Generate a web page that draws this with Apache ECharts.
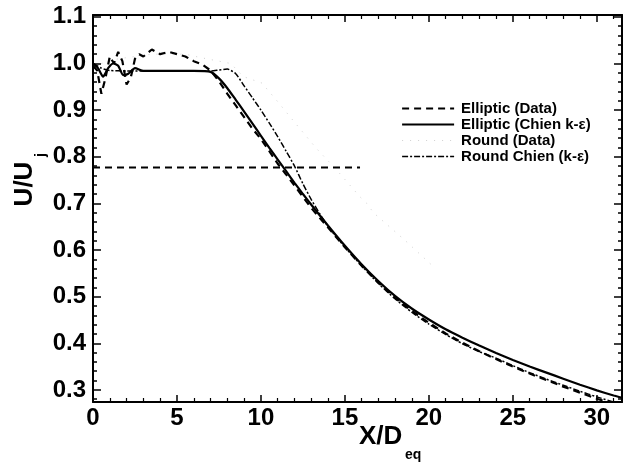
<!DOCTYPE html>
<html>
<head>
<meta charset="utf-8">
<script src="https://cdn.jsdelivr.net/npm/echarts@6/dist/echarts.min.js"></script>
<style>
  html, body { margin: 0; padding: 0; background: #fff; }
  #chart { width: 631px; height: 468px; }
</style>
</head>
<body>
<div id="chart"></div>
<script>
// Centreline velocity decay U/Uj versus X/Deq

const ellipticData = [
  [0, 0.995], [0.25, 0.985], [0.5, 0.935], [0.75, 0.97], [1.0, 1.015], [1.25, 1.0],
  [1.5, 1.025], [1.75, 1.005], [2.0, 0.955], [2.25, 0.97], [2.5, 1.01], [2.75, 1.02],
  [3.0, 1.015], [3.5, 1.03], [4.0, 1.02], [4.5, 1.025], [5.0, 1.02], [5.5, 1.015],
  [6.0, 1.005], [6.5, 0.998], [7.0, 0.985], [7.5, 0.962], [8, 0.935], [8.5, 0.91],
  [9, 0.885], [9.5, 0.86], [10, 0.838], [10.5, 0.812], [11, 0.785], [11.5, 0.762],
  [12, 0.738], [12.5, 0.714], [13, 0.69], [14, 0.648], [15, 0.606], [16, 0.566],
  [17, 0.53], [18, 0.497], [19, 0.469], [20, 0.444], [21, 0.421], [22, 0.401],
  [23, 0.383], [24, 0.366], [25, 0.35], [26, 0.335], [27, 0.321], [28, 0.307],
  [29, 0.294], [30, 0.281], [31, 0.27], [31.5, 0.265]
];

const ellipticChien = [
  [0, 1.0], [0.3, 0.99], [0.6, 0.972], [0.9, 0.99], [1.2, 1.0], [1.5, 0.995],
  [1.8, 0.975], [2.1, 0.978], [2.5, 0.99], [3, 0.984], [4, 0.984], [5, 0.984],
  [6, 0.984], [7, 0.982], [7.5, 0.968], [8, 0.947], [8.5, 0.922], [9, 0.897],
  [9.5, 0.871], [10, 0.845], [10.5, 0.819], [11, 0.794], [11.5, 0.769], [12, 0.744],
  [12.5, 0.72], [13, 0.697], [14, 0.652], [15, 0.609], [16, 0.569], [17, 0.533],
  [18, 0.501], [19, 0.474], [20, 0.451], [21, 0.43], [22, 0.412], [23, 0.395],
  [24, 0.379], [25, 0.364], [26, 0.35], [27, 0.337], [28, 0.324], [29, 0.311],
  [30, 0.299], [31, 0.288], [31.5, 0.283]
];

const roundData = [
  [0.5, 1.0], [1.5, 1.01], [2.5, 1.015], [3.5, 1.02], [4.5, 1.02], [5.5, 1.02],
  [6.5, 1.012], [7.5, 1.005], [8.2, 1.0], [8.95, 0.972], [10.06, 0.958], [11, 0.918],
  [12, 0.874], [13.3, 0.818], [14.5, 0.772], [15.9, 0.714], [16.3, 0.70], [16.7, 0.68],
  [18.6, 0.62], [20.4, 0.56]
];

const roundChien = [
  [0, 1.0], [0.5, 0.99], [1, 0.985], [2, 0.984], [3, 0.984], [4, 0.984], [5, 0.984],
  [6, 0.984], [7, 0.984], [7.5, 0.986], [8, 0.988], [8.5, 0.978], [9, 0.952],
  [9.5, 0.926], [10, 0.9], [10.5, 0.872], [11, 0.843], [11.5, 0.812], [12, 0.78],
  [12.5, 0.742], [13, 0.708], [13.5, 0.678], [14, 0.65], [15, 0.606], [16, 0.566],
  [17, 0.528], [18, 0.495], [19, 0.466], [20, 0.441], [21, 0.419], [22, 0.399],
  [23, 0.382], [24, 0.368], [25, 0.352], [26, 0.337], [27, 0.323], [28, 0.31],
  [29, 0.297], [30, 0.285], [31, 0.274], [31.5, 0.268]
];

// horizontal reference level
const refLevel = [[0, 0.777], [15.9, 0.777]];

const seriesNames = ['Elliptic (Data)', 'Elliptic (Chien k-\u03b5)', 'Round (Data)', 'Round Chien (k-\u03b5)'];

const xRange = [0, 31.5];
const yRange = [0.274, 1.104];
const yMajor = [0.3, 0.4, 0.5, 0.6, 0.7, 0.8, 0.9, 1.0, 1.1];
const yMinor = [0.28, 0.32, 0.34, 0.36, 0.38, 0.42, 0.44, 0.46, 0.48, 0.52, 0.54, 0.56, 0.58,
  0.62, 0.64, 0.66, 0.68, 0.72, 0.74, 0.76, 0.78, 0.82, 0.84, 0.86, 0.88, 0.92, 0.94,
  0.96, 0.98, 1.02, 1.04, 1.06, 1.08];

const FONT = '"Liberation Sans", Arial, Helvetica, sans-serif';
const INK = '#000';

function xAxisOf(pos, withLabels) {
  return {
    type: 'value', position: pos, min: xRange[0], max: xRange[1], interval: 5,
    axisLine: { show: true, onZero: false, lineStyle: { color: INK, width: 2 } },
    axisTick: { show: true, inside: true, length: 7, lineStyle: { color: INK, width: 1.5 } },
    minorTick: { show: true, splitNumber: 5, length: 4, lineStyle: { color: INK, width: 1.2 } },
    axisLabel: withLabels ? {
      show: true, margin: 4, color: INK, fontFamily: FONT, fontSize: 24, fontWeight: 'bold',
      showMaxLabel: false,
      formatter: v => String(v)
    } : { show: false },
    splitLine: { show: false }
  };
}

function yAxisOf(pos, ticks, len, withLine, withLabels) {
  return {
    type: 'value', position: pos, min: yRange[0], max: yRange[1],
    axisLine: { show: withLine, onZero: false, lineStyle: { color: INK, width: 2 } },
    axisTick: { show: true, inside: true, length: len, customValues: ticks,
      lineStyle: { color: INK, width: 1.5 } },
    axisLabel: withLabels ? {
      show: true, margin: 7, color: INK, fontFamily: FONT, fontSize: 24, fontWeight: 'bold',
      customValues: yMajor, formatter: v => v.toFixed(1)
    } : { show: false },
    splitLine: { show: false }
  };
}

const chart = echarts.init(document.getElementById('chart'), null, { renderer: 'canvas' });

chart.setOption({
  backgroundColor: '#fff',
  animation: false,
  grid: { left: 93, right: 9, top: 15, bottom: 66, containLabel: false },
  xAxis: [xAxisOf('bottom', true), xAxisOf('top', false)],
  yAxis: [
    yAxisOf('left', yMajor, 8, true, true),
    yAxisOf('right', yMajor, 8, true, false),
    yAxisOf('left', yMinor, 4, false, false),
    yAxisOf('right', yMinor, 4, false, false)
  ],
  legend: {
    data: seriesNames,
    orient: 'vertical',
    left: 401, top: 101,
    padding: 0,
    itemWidth: 52, itemHeight: 10, itemGap: 1,
    selectedMode: false,
    itemStyle: { opacity: 0 },
    lineStyle: { width: 'inherit' },
    textStyle: { color: INK, fontFamily: FONT, fontSize: 15, fontWeight: 'bold',
      lineHeight: 14, padding: [0, 0, 0, 2] }
  },
  series: [
    {
      name: seriesNames[0], type: 'line', data: ellipticData, symbol: 'none',
      lineStyle: { color: INK, width: 2.2, type: [7, 5] }, z: 4
    },
    {
      name: seriesNames[1], type: 'line', data: ellipticChien, symbol: 'none', smooth: 0.2,
      lineStyle: { color: INK, width: 2.2, type: 'solid' }, z: 3
    },
    {
      name: seriesNames[2], type: 'line', data: roundData, symbol: 'none',
      lineStyle: { color: '#d0d0d0', width: 1, type: [1, 7] }, z: 2
    },
    {
      name: seriesNames[3], type: 'line', data: roundChien, symbol: 'none', smooth: 0.2,
      lineStyle: { color: INK, width: 1.5, type: [6, 2, 2, 2] }, z: 3
    },
    {
      name: 'level', type: 'line', data: refLevel, symbol: 'none',
      lineStyle: { color: INK, width: 2, type: [7, 5] }, z: 2
    }
  ],
  graphic: [
    { type: 'text', left: 359, top: 424,
      style: { text: 'X/D', font: 'bold 26px ' + FONT, fill: INK } },
    { type: 'text', left: 405, top: 448,
      style: { text: 'eq', font: 'bold 14px ' + FONT, fill: INK } },
    { type: 'text', x: 25, y: 184, rotation: Math.PI / 2,
      style: { text: 'U/U', font: 'bold 26px ' + FONT, fill: INK, align: 'center', verticalAlign: 'middle' } },
    { type: 'text', x: 41, y: 155, rotation: Math.PI / 2,
      style: { text: 'j', font: 'bold 14px ' + FONT, fill: INK, align: 'center', verticalAlign: 'middle' } }
  ]
});
</script>
</body>
</html>
